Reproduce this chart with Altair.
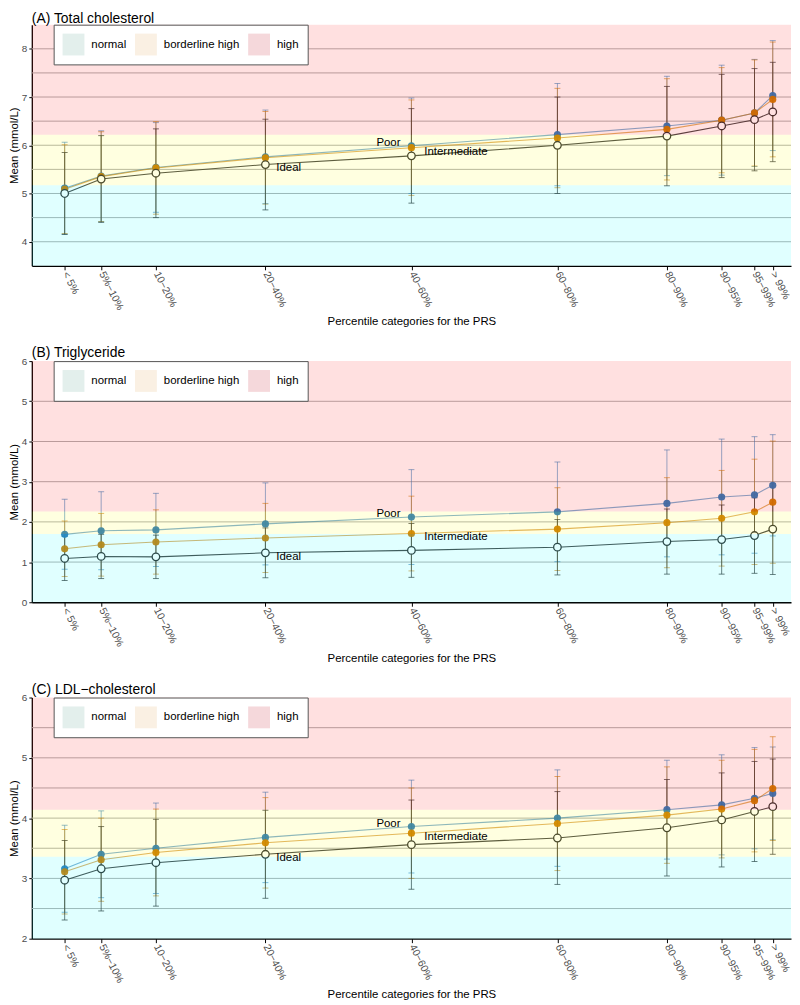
import altair as alt
import pandas as pd

# ---------------- data ----------------
categories = ["< 5%", "5%−10%", "10−20%", "20−40%", "40−60%", "60−80%",
              "80−90%", "90−95%", "95−99%", "> 99%"]
midpoints = [2.5, 7.5, 15, 30, 50, 70, 85, 92.5, 97, 99.5]
groups = ["Ideal", "Intermediate", "Poor"]
zones = ["normal", "borderline high", "high"]

# (A) Total cholesterol: mean and SD
a_ideal_mean = [5.00, 5.30, 5.42, 5.60, 5.78, 6.00, 6.19, 6.40, 6.53, 6.69]
a_ideal_sd = [0.85, 0.90, 0.92, 0.94, 0.98, 1.00, 1.03, 1.07, 1.06, 1.03]
a_inter_mean = [5.09, 5.35, 5.53, 5.74, 5.95, 6.15, 6.33, 6.52, 6.67, 6.95]
a_inter_sd = [0.92, 0.93, 0.96, 0.96, 0.99, 1.03, 1.05, 1.09, 1.10, 1.19]
a_poor_mean = [5.11, 5.36, 5.54, 5.76, 5.99, 6.22, 6.40, 6.52, 6.67, 7.03]
a_poor_sd = [0.95, 0.94, 0.93, 0.97, 0.99, 1.06, 1.03, 1.14, 1.11, 1.14]
a_cuts = [3.5, 5.17, 6.22, 8.5]

# (B) Triglyceride
b_ideal_mean = [1.09, 1.14, 1.13, 1.23, 1.29, 1.37, 1.51, 1.56, 1.66, 1.82]
b_ideal_sd = [0.55, 0.55, 0.54, 0.62, 0.67, 0.69, 0.81, 0.86, 0.94, 1.13]
b_inter_mean = [1.33, 1.43, 1.50, 1.60, 1.71, 1.82, 1.98, 2.09, 2.25, 2.49]
b_inter_sd = [0.69, 0.78, 0.80, 0.86, 0.93, 1.03, 1.12, 1.19, 1.31, 1.52]
b_poor_mean = [1.69, 1.78, 1.80, 1.95, 2.12, 2.25, 2.46, 2.62, 2.67, 2.91]
b_poor_sd = [0.87, 0.97, 0.91, 1.02, 1.18, 1.24, 1.33, 1.44, 1.45, 1.26]
b_cuts = [0, 1.7, 2.26, 6]

# (C) LDL-cholesterol
c_ideal_mean = [2.97, 3.16, 3.26, 3.40, 3.56, 3.67, 3.84, 3.97, 4.11, 4.19]
c_ideal_sd = [0.66, 0.70, 0.72, 0.73, 0.74, 0.77, 0.80, 0.78, 0.83, 0.79]
c_inter_mean = [3.11, 3.31, 3.43, 3.59, 3.75, 3.91, 4.05, 4.15, 4.29, 4.49]
c_inter_sd = [0.70, 0.69, 0.72, 0.75, 0.75, 0.78, 0.80, 0.81, 0.85, 0.86]
c_poor_mean = [3.16, 3.40, 3.50, 3.68, 3.86, 4.00, 4.14, 4.22, 4.33, 4.41]
c_poor_sd = [0.72, 0.72, 0.75, 0.75, 0.77, 0.80, 0.82, 0.83, 0.84, 0.77]
c_cuts = [2, 3.36, 4.14, 6]

# ---------------- style ----------------
FONT = "Liberation Sans"
W, H = 765, 243
series_colors = {"Ideal": "#333333", "Intermediate": "#CC7A00", "Poor": "#2878B8"}
band_colors = ["#00FFFF", "#FFFF00", "#FF0000"]
key_colors = ["#E3EFEC", "#FAF0E3", "#F5D8DB"]

label_expr = ("[" + ",".join("'%s'" % c for c in categories) + "][indexof(["
              + ",".join(str(m) for m in midpoints) + "], datum.value)]")


def make_panel(title, means, sds, cuts, ydomain, yticks, grid):
    rows = []
    for g in groups:
        for c, p, m, s in zip(categories, midpoints, means[g], sds[g]):
            rows.append({"group": g, "category": c, "pct": p, "mean": m,
                         "lo": m - s, "hi": m + s})
    df = pd.DataFrame(rows)
    bdf = pd.DataFrame({"band": zones, "ylo": cuts[:3], "yhi": cuts[1:]})
    kdf = pd.DataFrame({"zone": zones})
    gdf = pd.DataFrame({"g": grid})

    xscale = alt.Scale(domain=[-2, 102], nice=False, zero=False)
    xaxis = alt.Axis(values=midpoints, labelExpr=label_expr,
                     title="Percentile categories for the PRS",
                     labelAngle=63, labelAlign="left", labelBaseline="middle",
                     labelFontSize=10.5,
                     labelOverlap=False, labelFlush=False, titlePadding=4)
    yscale = alt.Scale(domain=ydomain, nice=False, zero=False)
    yaxis = alt.Axis(values=yticks, title="Mean (mmol/L)", titlePadding=2,
                     tickSize=3, labelPadding=2)
    X = alt.X("pct:Q", scale=xscale, axis=xaxis)

    layers = []
    layers.append(alt.Chart(gdf).mark_rule(color="#B0B0B0", strokeWidth=1).encode(
        y=alt.Y("g:Q", scale=yscale, axis=yaxis)))

    order = ["Poor", "Intermediate", "Ideal"]
    for g in order:
        sub = alt.Chart(df).transform_filter(alt.datum.group == g)
        col = series_colors[g]
        op = 0.7 if g == "Ideal" else 0.55
        layers.append(sub.mark_rule(color=col, strokeWidth=1, opacity=op).encode(
            x=X, y=alt.Y("lo:Q", scale=yscale, axis=yaxis), y2="hi:Q"))
        layers.append(sub.mark_tick(orient="horizontal", size=6, thickness=1,
                                    color=col, opacity=op).encode(
            x=X, y=alt.Y("lo:Q", scale=yscale, axis=yaxis)))
        layers.append(sub.mark_tick(orient="horizontal", size=6, thickness=1,
                                    color=col, opacity=op).encode(
            x=X, y=alt.Y("hi:Q", scale=yscale, axis=yaxis)))
    for g in order:
        sub = alt.Chart(df).transform_filter(alt.datum.group == g)
        col = series_colors[g]
        layers.append(sub.mark_line(color=col, strokeWidth=1.1,
                                    opacity=0.9 if g == "Ideal" else 0.6).encode(
            x=X, y=alt.Y("mean:Q", scale=yscale, axis=yaxis)))
    for g in order:
        sub = alt.Chart(df).transform_filter(alt.datum.group == g)
        col = series_colors[g]
        if g == "Ideal":
            mk = sub.mark_point(shape="circle", size=58, filled=True, fill="white",
                                stroke=col, strokeWidth=1.3, opacity=1)
        else:
            mk = sub.mark_point(shape="circle", size=52, filled=True, color=col, opacity=0.95)
        layers.append(mk.encode(x=X, y=alt.Y("mean:Q", scale=yscale, axis=yaxis)))

    # background zones (translucent overlay)
    layers.append(alt.Chart(bdf).mark_rect(opacity=0.12).encode(
        x=alt.value(0), x2=alt.value(W),
        y=alt.Y("ylo:Q", scale=yscale, axis=yaxis), y2="yhi:Q",
        fill=alt.Fill("band:N", scale=alt.Scale(domain=list(reversed(zones)),
                                                range=list(reversed(band_colors))),
                      legend=None)))

    # series labels
    txt = dict(fontSize=11.5, color="black", font=FONT, baseline="middle")
    layers.append(alt.Chart(df).transform_filter(
        (alt.datum.group == "Poor") & (alt.datum.pct == 50)).mark_text(
        align="right", dx=-11, dy=-3, **txt).encode(
        x=X, y=alt.Y("mean:Q", scale=yscale, axis=yaxis), text="group:N"))
    layers.append(alt.Chart(df).transform_filter(
        (alt.datum.group == "Intermediate") & (alt.datum.pct == 50)).mark_text(
        align="left", dx=13, dy=4, **txt).encode(
        x=X, y=alt.Y("mean:Q", scale=yscale, axis=yaxis), text="group:N"))
    layers.append(alt.Chart(df).transform_filter(
        (alt.datum.group == "Ideal") & (alt.datum.pct == 30)).mark_text(
        align="left", dx=11, dy=4, **txt).encode(
        x=X, y=alt.Y("mean:Q", scale=yscale, axis=yaxis), text="group:N"))

    # legend carrier
    layers.append(alt.Chart(kdf).mark_square(opacity=0).encode(
        x=alt.value(0), y=alt.value(0),
        color=alt.Color("zone:N", scale=alt.Scale(domain=zones, range=key_colors),
                        legend=alt.Legend(title=None, orient="none", legendX=22, legendY=0,
                                          direction="horizontal", symbolType="square",
                                          symbolSize=484, symbolStrokeWidth=0,
                                          symbolOpacity=1,
                                          labelFontSize=11.5, labelColor="black",
                                          labelFont=FONT, labelOffset=7,
                                          columnPadding=8, padding=9,
                                          fillColor="white", strokeColor="#555555",
                                          zindex=1))))

    return alt.layer(*layers).properties(
        width=W, height=H,
        title=alt.TitleParams(title, anchor="start", frame="group", fontSize=14,
                              fontWeight="normal", color="black", font=FONT, offset=-4))


pA = make_panel("(A) Total cholesterol",
                {"Ideal": a_ideal_mean, "Intermediate": a_inter_mean, "Poor": a_poor_mean},
                {"Ideal": a_ideal_sd, "Intermediate": a_inter_sd, "Poor": a_poor_sd},
                a_cuts, [3.5, 8.5], [4, 5, 6, 7, 8],
                [4, 4.5, 5, 5.5, 6, 6.5, 7, 7.5, 8])
pB = make_panel("(B) Triglyceride",
                {"Ideal": b_ideal_mean, "Intermediate": b_inter_mean, "Poor": b_poor_mean},
                {"Ideal": b_ideal_sd, "Intermediate": b_inter_sd, "Poor": b_poor_sd},
                b_cuts, [0, 6], [0, 1, 2, 3, 4, 5, 6], [1, 2, 3, 4, 5])
pC = make_panel("(C) LDL−cholesterol",
                {"Ideal": c_ideal_mean, "Intermediate": c_inter_mean, "Poor": c_poor_mean},
                {"Ideal": c_ideal_sd, "Intermediate": c_inter_sd, "Poor": c_poor_sd},
                c_cuts, [2, 6], [2, 3, 4, 5, 6], [2.5, 3, 3.5, 4, 4.5, 5, 5.5])

chart = alt.vconcat(pA, pB, pC, spacing=19).resolve_scale(
    x="independent", y="independent", color="independent", fill="independent"
).resolve_legend(color="independent").properties(
    padding={"left": 0, "top": 0, "right": 0, "bottom": 0}
).configure(font=FONT).configure_view(stroke=None).configure_axis(
    labelFont=FONT, labelFontSize=10, labelColor="#4D4D4D",
    titleFont=FONT, titleFontSize=11.5, titleFontWeight="normal", titleColor="black",
    domainColor="black", domainWidth=1.3, tickColor="black", tickSize=4, tickWidth=1,
    grid=False, labelPadding=2
)

chart.save("out.html", embed_options={"renderer": "svg", "actions": False})
